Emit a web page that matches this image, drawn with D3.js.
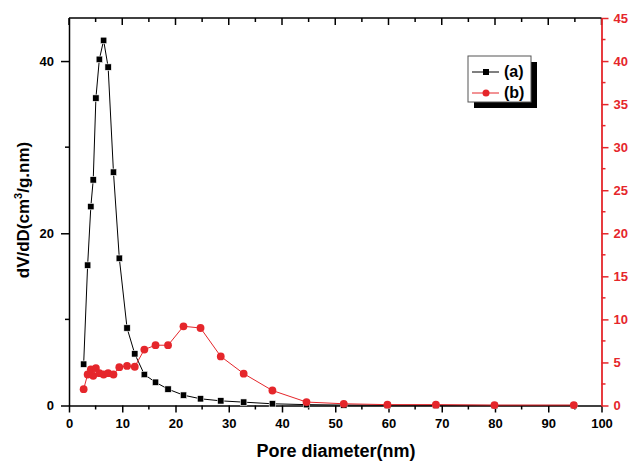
<!DOCTYPE html>
<html><head><meta charset="utf-8">
<script src="https://cdn.jsdelivr.net/npm/d3@7"></script>
<style>
body{margin:0;background:#fff;}
text{font-family:"Liberation Sans",Arial,sans-serif;font-weight:bold;}
</style></head>
<body><svg id="c" width="630" height="463"></svg>
<script>
const poreDiameter = [2.75, 3.5, 4.1, 4.55, 5.05, 5.7, 6.5, 7.35, 8.35, 9.45, 10.9, 12.35, 14.15, 16.25, 18.6, 21.5, 24.7, 28.5, 32.8, 38.2, 44.6, 51.6, 59.8, 68.9, 79.9, 94.8];
const seriesA = [4.8, 16.3, 23.1, 26.2, 35.7, 40.2, 42.4, 39.3, 27.1, 17.1, 9.0, 6.0, 3.6, 2.7, 1.9, 1.2, 0.78, 0.54, 0.39, 0.2, 0.1, 0.05, 0.03, 0.02, 0.01, 0.01];
const seriesB = [1.9, 3.6, 4.2, 3.45, 4.35, 3.75, 3.6, 3.75, 3.6, 4.45, 4.6, 4.5, 6.5, 7.0, 7.0, 9.2, 9.0, 5.7, 3.7, 1.74, 0.4, 0.2, 0.1, 0.1, 0.05, 0.05];
const xTicks = [0,10,20,30,40,50,60,70,80,90,100];
const leftTicks = [0,20,40];
const rightTicks = [0,5,10,15,20,25,30,35,40,45];
const legendLabels = ["(a)","(b)"];

const RED = "#e5262b";
const svg = d3.select("#c");
const L=69, R=601.5, T=18, B=405.5;
const x = d3.scaleLinear().domain([0,100]).range([L,R]);
const yL = d3.scaleLinear().domain([0,45]).range([B,T]);
const yR = d3.scaleLinear().domain([0,45]).range([B,T]);

// frame top line
svg.append("line").attr("x1",L).attr("x2",R).attr("y1",T).attr("y2",T).attr("stroke","#000").attr("stroke-width",1.5);

// top axis inward ticks
const minorX = d3.range(5,100,10);
const gTop = svg.append("g").attr("transform",`translate(0,${T})`);
gTop.selectAll("line.maj").data(xTicks).join("line").attr("x1",d=>x(d)).attr("x2",d=>x(d)).attr("y1",0).attr("y2",7).attr("stroke","#000").attr("stroke-width",1.5);
gTop.selectAll("line.min").data(minorX).join("line").attr("x1",d=>x(d)).attr("x2",d=>x(d)).attr("y1",0).attr("y2",4).attr("stroke","#000").attr("stroke-width",1.5);

// bottom axis
const gB = svg.append("g").attr("transform",`translate(0,${B})`)
  .call(d3.axisBottom(x).tickValues(xTicks).tickSize(7).tickSizeOuter(0).tickPadding(6));
gB.selectAll(".tick line").attr("stroke-width",1.5);
gB.select(".domain").attr("stroke-width",1.5);
gB.selectAll("text").attr("font-size",13).attr("fill","#000");
gB.append("g").selectAll("line").data(minorX).join("line").attr("x1",d=>x(d)).attr("x2",d=>x(d)).attr("y1",0).attr("y2",4).attr("stroke","#000").attr("stroke-width",1.5);

// left axis
const gL = svg.append("g").attr("transform",`translate(${L},0)`)
  .call(d3.axisLeft(yL).tickValues(leftTicks).tickSize(8).tickSizeOuter(0).tickPadding(7));
gL.selectAll(".tick line").attr("stroke-width",1.5);
gL.select(".domain").attr("stroke-width",1.5);
gL.selectAll("text").attr("font-size",13).attr("fill","#000");
gL.append("g").selectAll("line").data([10,30]).join("line").attr("y1",d=>yL(d)).attr("y2",d=>yL(d)).attr("x1",0).attr("x2",-4).attr("stroke","#000").attr("stroke-width",1.5);

// right axis (red)
const gR = svg.append("g").attr("transform",`translate(${R},0)`)
  .call(d3.axisRight(yR).tickValues(rightTicks).tickSize(7).tickSizeOuter(0).tickPadding(5));
gR.selectAll(".tick line").attr("stroke",RED).attr("stroke-width",1.5);
gR.select(".domain").attr("stroke",RED).attr("stroke-width",1.8);
gR.selectAll("text").attr("font-size",13).attr("fill",RED);
gR.append("g").selectAll("line").data(d3.range(2.5,45,5)).join("line").attr("y1",d=>yR(d)).attr("y2",d=>yR(d)).attr("x1",0).attr("x2",4).attr("stroke",RED).attr("stroke-width",1.5);

// titles
svg.append("text").attr("x",336).attr("y",457).attr("text-anchor","middle").attr("font-size",18).attr("fill","#000").text("Pore diameter(nm)");
const yt = svg.append("text").attr("transform","translate(29,210) rotate(-90)").attr("text-anchor","middle").attr("font-size",17).attr("fill","#000");
yt.append("tspan").text("dV/dD(cm");
yt.append("tspan").attr("font-size",11).attr("dy",-7).text("3");
yt.append("tspan").attr("dy",7).text("/g.nm)");

const dataA = poreDiameter.map((d,i)=>[d,seriesA[i]]);
const dataB = poreDiameter.map((d,i)=>[d,seriesB[i]]);

// series a
svg.append("path").datum(dataA).attr("fill","none").attr("stroke","#000").attr("stroke-width",1)
  .attr("d",d3.line().x(d=>x(d[0])).y(d=>yL(d[1])));
svg.selectAll("rect.a").data(dataA).join("rect").attr("class","a")
  .attr("x",d=>x(d[0])-3.2).attr("y",d=>yL(d[1])-3.2).attr("width",6.4).attr("height",6.4)
  .attr("fill","#000").attr("stroke","#fff").attr("stroke-width",0.6);

// series b
svg.append("path").datum(dataB).attr("fill","none").attr("stroke",RED).attr("stroke-width",1)
  .attr("d",d3.line().x(d=>x(d[0])).y(d=>yR(d[1])));
svg.selectAll("circle.b").data(dataB).join("circle").attr("class","b")
  .attr("cx",d=>x(d[0])).attr("cy",d=>yR(d[1])).attr("r",3.9).attr("fill",RED);

// legend
const lg = svg.append("g");
lg.append("rect").attr("x",474).attr("y",62).attr("width",63).attr("height",46).attr("fill","#000");
lg.append("rect").attr("x",468).attr("y",56).attr("width",63).attr("height",46).attr("fill","#fff").attr("stroke","#555").attr("stroke-width",1);
[["#000","rect"],[RED,"circle"]].forEach((s,i)=>{
  const yy = 72 + i*21;
  lg.append("line").attr("x1",472).attr("x2",499).attr("y1",yy).attr("y2",yy).attr("stroke",s[0]).attr("stroke-width",1);
  if(s[1]==="rect") lg.append("rect").attr("x",483).attr("y",yy-3).attr("width",6).attr("height",6).attr("fill",s[0]);
  else lg.append("circle").attr("cx",486).attr("cy",yy).attr("r",3.5).attr("fill",s[0]);
  lg.append("text").attr("x",504).attr("y",yy+5).attr("font-size",16).attr("fill","#000").text(legendLabels[i]);
});
</script></body></html>
